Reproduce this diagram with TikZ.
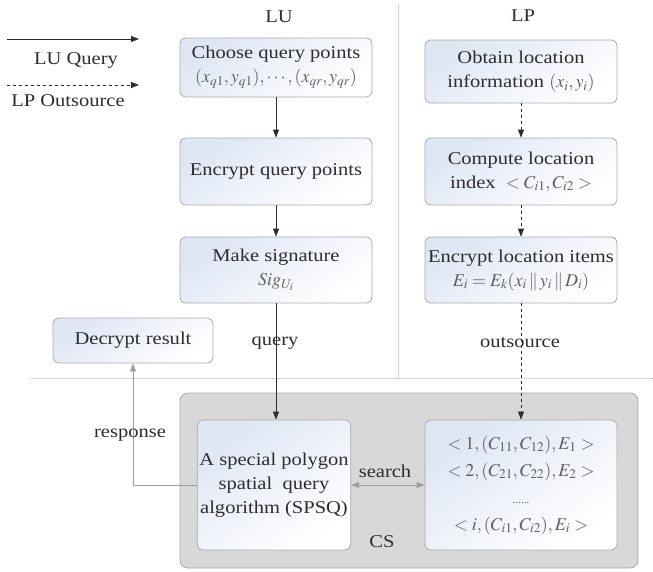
\documentclass[tikz,border=0pt]{standalone}
\usepackage{mathptmx}
\usepackage{fontspec}
\setmainfont[FakeStretch=1.14]{Liberation Serif}
\usetikzlibrary{positioning,arrows.meta}

\definecolor{boxline}{RGB}{170,170,170}
\definecolor{boxtint}{RGB}{222,230,244}
\definecolor{csfill}{RGB}{216,216,216}
\definecolor{inktext}{RGB}{45,45,45}
\definecolor{inkmath}{RGB}{95,95,95}

\tikzset{
	stepbox/.style={draw=boxline, line width=0.8pt, rounded corners=6pt,
		top color=boxtint, bottom color=white, shading angle=35,
		align=center, inner sep=2pt, text=inktext},
	csbox/.style={draw=boxline, line width=0.8pt, fill=csfill, rounded corners=8pt},
	qarrow/.style={draw=inktext, line width=0.8pt, -{Triangle[length=8pt,width=6pt]}},
	oarrow/.style={qarrow, dashed},
	greyarrow/.style={draw=gray!75, line width=0.8pt},
	divline/.style={draw=gray!55, densely dotted, line width=1pt},
	plain/.style={text=inktext, inner sep=0pt}
}

\begin{document}
\begin{tikzpicture}[x=1pt,y=-1pt]
	\newcommand{\boxfont}{\fontsize{18}{24}\selectfont}
	\newcommand{\mth}[1]{\textcolor{inkmath}{$#1$}}
	\useasboundingbox (0,0) rectangle (653,571);
	\boxfont
	%Dividing lines
	\coordinate (vtop) at (398,5);
	\coordinate (vbot) at (398,378);
	\coordinate (hleft) at (30,378);
	\coordinate (hright) at (653,378);
	\draw[divline] (vtop) -- (vbot);
	\draw[divline] (hleft) -- (hright);
	%Legend
	\coordinate (lq0) at (7,39);
	\coordinate (lq1) at (139,39);
	\coordinate (lo0) at (7,85);
	\coordinate (lo1) at (139,85);
	\draw[qarrow] (lq0) -- (lq1);
	\draw[oarrow] (lo0) -- (lo1);
	\node[plain] (luquery) at (76,60) {LU Query};
	\node[plain] (lpout) at (68,101) {LP Outsource};
	%Column headers
	\node[plain] (lu) at (279,17) {LU};
	\node[plain] (lp) at (523,16) {LP};
	%LU steps
	\node[stepbox, minimum width=192, minimum height=59] (choose) at (276,67.5)
		{Choose query points\\ \mth{(x_{q1},y_{q1}),\cdots,(x_{qr},y_{qr})}};
	\node[stepbox, minimum width=192, minimum height=67] (encq) at (276,171.5)
		{Encrypt query points};
	\node[stepbox, minimum width=192, minimum height=66] (sign) at (276,270)
		{Make signature\\ \mth{Sig_{U_i}}};
	\node[stepbox, minimum width=160, minimum height=45] (decrypt) at (133,340.5)
		{Decrypt result};
	%LP steps
	\node[stepbox, minimum width=192, minimum height=63] (obtain) at (521,71.5)
		{Obtain location\\ information \mth{(x_i,y_i)}};
	\node[stepbox, minimum width=192, minimum height=67] (index) at (521,171.5)
		{Compute location\\ index \ \mth{<C_{i1},C_{i2}>}};
	\node[stepbox, minimum width=192, minimum height=66] (encl) at (521,270)
		{Encrypt location items\\ \mth{E_i=E_k(x_i\,\|\,y_i\,\|\,D_i)}};
	%CS
	\node[csbox, minimum width=458, minimum height=175] (cs) at (409,480.5) {};
	\node[plain] (cslabel) at (382,542) {CS};
	\node[stepbox, minimum width=142, minimum height=130] (spsq) at (274,485)
		{A special polygon\\ spatial \ query\\ algorithm (SPSQ)};
	\node[stepbox, minimum width=192, minimum height=130, text=inkmath,
		font=\fontsize{18}{27}\selectfont] (items) at (521,485)
		{$<1,(C_{11},C_{12}),E_1>$\\ $<2,(C_{21},C_{22}),E_2>$\\
		{\fontsize{10}{27}\selectfont ......}\\ $<i,(C_{i1},C_{i2}),E_i>$};
	%Flows
	\draw[qarrow] (choose) -- (encq);
	\draw[qarrow] (encq) -- (sign);
	\draw[qarrow] (sign.south) -- (sign.south |- spsq.north);
	\draw[oarrow] (obtain) -- (index);
	\draw[oarrow] (index) -- (encl);
	\draw[oarrow] (encl.south) -- (encl.south |- items.north);
	\draw[greyarrow, -{Triangle[length=8pt,width=6pt]}] (spsq.west) -| (decrypt.south);
	\draw[greyarrow, {Triangle[length=8pt,width=6pt]}-{Triangle[length=8pt,width=6pt]}] (spsq.east) -- (items.west);
	\node[plain] (query) at (275,343) {query};
	\node[plain] (outsrc) at (520,343) {outsource};
	\node[plain] (resp) at (130,435) {response};
	\node[plain] (search) at (385,471) {search};
\end{tikzpicture}
\end{document}
